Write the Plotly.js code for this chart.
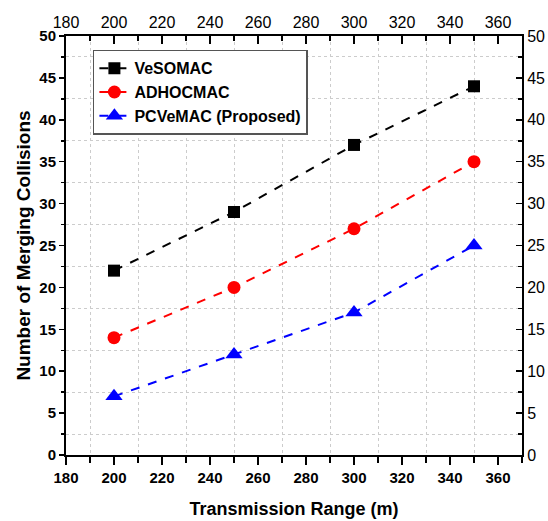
<!DOCTYPE html>
<html>
<head>
<meta charset="utf-8">
<script src="https://cdn.plot.ly/plotly-3.0.1.min.js"></script>
<style>html,body{margin:0;padding:0;background:#fff;}#chart{width:548px;height:521px;}</style>
</head>
<body>
<div id="chart"></div>
<script>
const ranges = [200, 250, 300, 350];
const vesomac = [22, 29, 37, 44];
const adhocmac = [14, 20, 27, 35];
const pcvemac = [7, 12, 17, 25];
const seriesNames = ['VeSOMAC', 'ADHOCMAC', 'PCVeMAC (Proposed)'];

const fam = 'Arial, Liberation Sans, sans-serif';
const traces = [
  {x: ranges, y: vesomac, name: seriesNames[0], mode: 'lines+markers',
   line: {color: '#000000', dash: 'dash', width: 2},
   marker: {symbol: 'square', size: 12, color: '#000000'}},
  {x: ranges, y: adhocmac, name: seriesNames[1], mode: 'lines+markers',
   line: {color: '#ff0000', dash: 'dash', width: 2},
   marker: {symbol: 'circle', size: 13, color: '#ff0000'}},
  {x: ranges, y: pcvemac, name: seriesNames[2], mode: 'lines+markers',
   line: {color: '#0000ff', dash: 'dash', width: 2},
   marker: {symbol: 'triangle-up', size: 15, color: '#0000ff'}},
  {x: ranges, y: vesomac, xaxis: 'x2', yaxis: 'y2', mode: 'markers',
   marker: {opacity: 0}, showlegend: false, hoverinfo: 'skip'}
];

const baseAxis = {
  showline: true, linecolor: '#000', linewidth: 2, zeroline: false,
  showgrid: false, ticks: 'outside', tickcolor: '#000', tickwidth: 1.5
};

const layout = {
  width: 548, height: 521,
  margin: {l: 66, r: 26, t: 36, b: 66},
  paper_bgcolor: '#fff', plot_bgcolor: '#fff',
  showlegend: true,
  legend: {x: 0.059, y: 0.967, xanchor: 'left', yanchor: 'top',
    bgcolor: '#fff', bordercolor: '#555', borderwidth: 1.5,
    font: {family: fam, size: 16, color: '#000', weight: 'bold'},
    tracegroupgap: 0, itemwidth: 30},
  xaxis: Object.assign({}, baseAxis, {
    range: [180, 370], tick0: 180, dtick: 20, ticklen: 8,
    tickfont: {family: fam, size: 15, color: '#000', weight: 'bold'},
    title: {text: 'Transmission Range (m)', standoff: 17,
      font: {family: fam, size: 18, color: '#000', weight: 'bold'}},
    minor: {dtick: 10, tick0: 180, ticklen: 6, ticks: 'outside', tickcolor: '#000',
      showgrid: true, gridcolor: '#cccccc', griddash: 'dot', gridwidth: 1}
  }),
  yaxis: Object.assign({}, baseAxis, {
    range: [0, 50], tick0: 0, dtick: 5, ticklen: 5,
    tickfont: {family: fam, size: 15, color: '#000', weight: 'bold'},
    title: {text: 'Number of Merging Collisions', standoff: 4,
      font: {family: fam, size: 19, color: '#000', weight: 'bold'}},
    minor: {dtick: 2.5, tick0: 0, ticklen: 3, ticks: 'outside', tickcolor: '#000',
      showgrid: true, gridcolor: '#cccccc', griddash: 'dot', gridwidth: 1}
  }),
  xaxis2: Object.assign({}, baseAxis, {
    overlaying: 'x', side: 'top', anchor: 'y',
    range: [180, 370], tick0: 180, dtick: 20, ticks: 'inside', ticklen: 8,
    tickfont: {family: fam, size: 16, color: '#000'},
    minor: {dtick: 10, tick0: 180, ticklen: 5, ticks: 'inside', tickcolor: '#000'}
  }),
  yaxis2: Object.assign({}, baseAxis, {
    overlaying: 'y', side: 'right', anchor: 'x',
    range: [0, 50], tick0: 0, dtick: 5, ticks: 'inside', ticklen: 6,
    tickfont: {family: fam, size: 16, color: '#000'},
    minor: {dtick: 2.5, tick0: 0, ticklen: 4, ticks: 'inside', tickcolor: '#000'}
  })
};

Plotly.newPlot('chart', traces, layout, {displayModeBar: false, staticPlot: true});
</script>
</body>
</html>
